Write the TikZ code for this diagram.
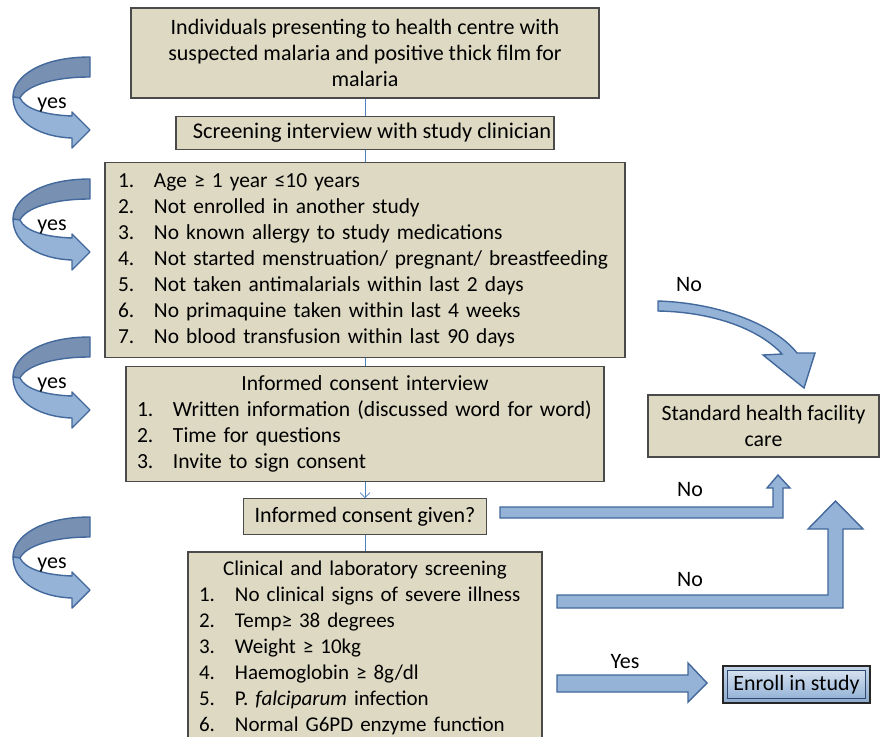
\documentclass[tikz,border=0pt]{standalone}
\usepackage{fontspec}
\setmainfont{Carlito}
\usetikzlibrary{positioning,arrows.meta}
\definecolor{boxfill}{HTML}{DDD9C3}
\definecolor{boxline}{HTML}{4A4A4A}
\definecolor{linkblue}{HTML}{4F81BD}
\definecolor{arrowfill}{HTML}{95B3D7}
\definecolor{arrowline}{HTML}{42689C}
\definecolor{arrowdark}{HTML}{7890B2}
\newcommand{\li}[2]{\mbox{\makebox[36pt][l]{#1}#2}}
\newcommand{\fs}[1]{\fontsize{#1}{26}\selectfont}

\tikzset{
  yes arrow/.pic={
    \path[curvearrow,fill=arrowdark] (90,0) .. controls (40,0) and (13,20) .. (13,40)
      -- (20,41) .. controls (25,30) and (50,20) .. (90,20) -- cycle;
    \path[curvearrow] (13,40) .. controls (13,65) and (40,80) .. (72,81) -- (72,91)
      -- (90,73) -- (72,55) -- (72,59) .. controls (45,58) and (25,52) .. (20,41) -- cycle;
    \node[lbl] (lbl) at (52,48) {yes};
  }
}

\begin{document}
\begin{tikzpicture}[x=1pt,y=-1pt,font=\fs{21},
  box/.style={draw=boxline,fill=boxfill,line width=1.2pt,inner sep=0pt},
  listbox/.style={box,align=left,inner ysep=0pt},
  link/.style={draw=linkblue,line width=0.7pt},
  blockarrow/.style={draw=arrowline,fill=arrowfill,line width=1.4pt,line join=miter},
  curvearrow/.style={draw=arrowline,fill=arrowfill,line width=1.4pt,line join=round},
  lbl/.style={font=\fs{22},inner sep=0pt},
  enrollbox/.style={draw=black!85,line width=1.2pt,top color=arrowfill!55,bottom color=arrowfill!95!black,inner sep=0pt}]
  \useasboundingbox (0,0) rectangle (882,736);

  % main column
  \node[box,font=\fs{22},minimum width=468pt,minimum height=90pt,align=center] (intro) at (365,53)
    {Individuals presenting to health centre with\\suspected malaria and positive thick film for\\malaria};
  \node[box,font=\fs{22.4},minimum width=378pt,minimum height=33pt,below=17pt of intro] (screen)
    {\hspace{14pt}Screening interview with study clinician};
  \node[listbox,font=\fs{21.4},text width=494pt,inner xsep=13pt,minimum height=195pt,below=12pt of screen] (criteria)
    {\li{1.}{Age ≥ 1 year ≤10 years}\\
     \li{2.}{Not enrolled in another study}\\
     \li{3.}{No known allergy to study medications}\\
     \li{4.}{Not started menstruation/ pregnant/ breastfeeding}\\
     \li{5.}{Not taken antimalarials within last 2 days}\\
     \li{6.}{No primaquine taken within last 4 weeks}\\
     \li{7.}{No blood transfusion within last 90 days}};
  \node[listbox,font=\fs{21.6},text width=456pt,inner xsep=11pt,minimum height=115pt,below=8pt of criteria] (consent)
    {\makebox[\hsize]{Informed consent interview}\\
     \li{1.}{Written information (discussed word for word)}\\
     \li{2.}{Time for questions}\\
     \li{3.}{Invite to sign consent}};
  \node[box,font=\fs{22},minimum width=243pt,minimum height=36pt,below=16pt of consent] (given)
    {Informed consent given?};
  \node[listbox,text width=332pt,inner xsep=11pt,minimum height=192pt,below=16pt of given] (clinical)
    {\makebox[\hsize]{Clinical and laboratory screening}\\
     \li{1.}{No clinical signs of severe illness}\\
     \li{2.}{Temp≥ 38 degrees}\\
     \li{3.}{Weight ≥ 10kg}\\
     \li{4.}{Haemoglobin ≥ 8g/dl}\\
     \li{5.}{P. \textit{falciparum} infection}\\
     \li{6.}{Normal G6PD enzyme function}\par\vspace{4pt}};

  % outcomes
  \node[box,font=\fs{21.8},minimum width=231pt,minimum height=62pt,align=center] (standard) at (763.5,426)
    {Standard health facility\\care};
  \node[enrollbox,minimum width=147pt,minimum height=37pt] (enroll) at (796.5,684.5) {};
  \draw[draw=arrowline!70!black,line width=0.5pt,top color=arrowfill!40,bottom color=arrowfill]
    ([shift={(5pt,-5pt)}]enroll.north west) rectangle ([shift={(-5pt,5pt)}]enroll.south east);
  \node[font=\fs{21.9}] at (enroll) {Enroll in study};

  \path[link] (intro) -- (screen)
              (screen) -- (criteria)
              (criteria) -- (consent)
              (given) -- (clinical);
  \draw[link,-{Straight Barb[length=5pt,width=10pt]}] (consent) -- (given);

  % block arrows
  \path[blockarrow] (658,301) .. controls (720,303) and (775,325) .. (797,353) -- (815,353)
    -- (804,388) -- (763,355) -- (782,354) .. controls (760,330) and (715,312) .. (658,311) -- cycle;
  \path[blockarrow] (500,507) -- (773,507) -- (773,488) -- (767,488) -- (778,475) -- (790,488)
    -- (783,488) -- (783,518) -- (500,518) -- cycle;
  \path[blockarrow] (557,595) -- (828,595) -- (828,529) -- (808,529) -- (835.5,501) -- (863,529)
    -- (843,529) -- (843,608) -- (557,608) -- cycle;
  \path[blockarrow] (557,675) -- (688,675) -- (688,663) -- (707,683) -- (688,702) -- (688,692)
    -- (557,692) -- cycle;

  \node[lbl] (no1) at (689,285) {No};
  \node[lbl] (no2) at (690,490) {No};
  \node[lbl] (no3) at (690,580) {No};
  \node[lbl] (yes) at (625,662) {Yes};

  % curved yes arrows
  \pic (y1) at (0,57) {yes arrow};
  \pic (y2) at (0,179) {yes arrow};
  \pic (y3) at (0,337) {yes arrow};
  \pic (y4) at (0,517) {yes arrow};
\end{tikzpicture}
\end{document}
